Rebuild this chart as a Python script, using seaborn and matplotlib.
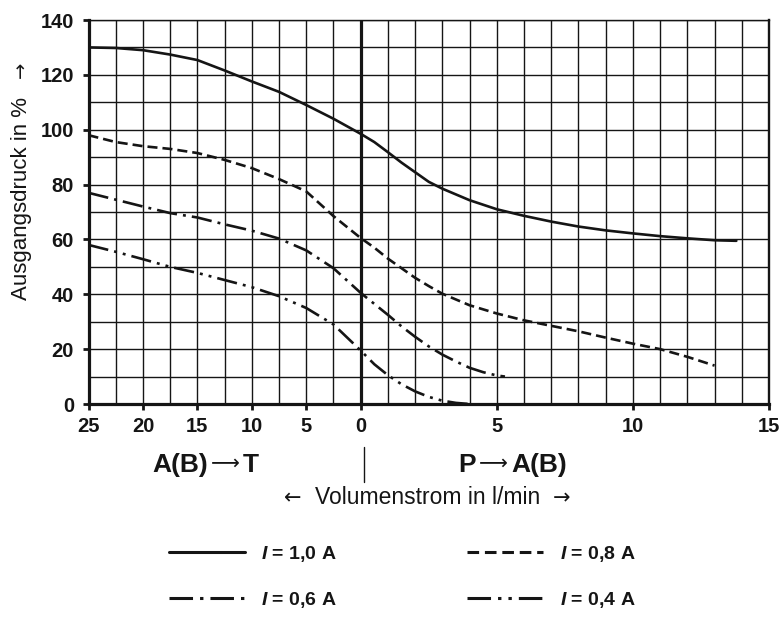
import numpy as np
import pandas as pd
import matplotlib
matplotlib.use("Agg")
import matplotlib.pyplot as plt
from matplotlib.lines import Line2D
import seaborn as sns

# Volumenstrom in l/min: negative = A(B)->T, positive = P->A(B)
flow_10 = [-25, -22.5, -20, -17.5, -15, -12.5, -10, -7.5, -5, -2.5, 0,
           0.5, 1, 1.5, 2, 2.5, 3, 4, 5, 6, 7, 8, 9, 10, 11, 12, 13, 13.8]
p_10 = [130, 129.8, 129, 127.4, 125.4, 121.6, 117.6, 113.8, 109, 104, 98.5,
        95.5, 91.8, 88, 84.5, 81, 78.5, 74.3, 71, 68.6, 66.5, 64.7, 63.3, 62.2, 61.2, 60.4, 59.7, 59.5]

flow_08 = [-25, -22.5, -20, -17.5, -15, -12.5, -10, -7.5, -5, -2.5, 0,
           0.5, 1, 1.5, 2, 2.5, 3, 4, 5, 6, 7, 8, 9, 10, 11, 12, 13]
p_08 = [98, 95.5, 94, 93, 91.5, 89, 86, 82, 77.5, 68.5, 60.5,
        57, 53, 49.5, 46, 43, 40.2, 36, 33, 30.5, 28.5, 26.5, 24.2, 22, 20, 17.2, 14]

flow_06 = [-25, -22.5, -20, -17.5, -15, -12.5, -10, -7.5, -5, -2.5, 0,
           0.5, 1, 1.5, 2, 2.5, 3, 3.5, 4, 4.5, 5, 5.3]
p_06 = [77, 74.5, 72, 69.6, 68, 65.5, 63.2, 60.3, 56, 49.5, 40.5,
        36.5, 32.5, 28.3, 24.5, 21, 18, 15.5, 13.2, 11.6, 10.4, 10]

flow_04 = [-25, -22.5, -20, -17.5, -15, -12.5, -10, -7.5, -5, -2.5, 0,
           0.5, 1, 1.5, 2, 2.5, 3, 3.5, 4]
p_04 = [58, 55.5, 52.8, 50, 47.8, 45.2, 42.6, 39.3, 35, 29, 19.5,
        14.5, 10.5, 7.2, 4.6, 2.6, 1.2, 0.4, 0]

labels = ["$\\mathbfit{I}$ = 1,0 A", "$\\mathbfit{I}$ = 0,8 A",
          "$\\mathbfit{I}$ = 0,6 A", "$\\mathbfit{I}$ = 0,4 A"]

df = pd.concat([
    pd.DataFrame({"flow": f, "druck": p, "strom": lab})
    for f, p, lab in zip([flow_10, flow_08, flow_06, flow_04],
                         [p_10, p_08, p_06, p_04], labels)
])

sns.set_style("white")
plt.rcParams["font.family"] = ["Liberation Sans", "DejaVu Sans"]
plt.rcParams["mathtext.fontset"] = "custom"
plt.rcParams["mathtext.bfit"] = "Liberation Sans:italic:bold"
plt.rcParams["mathtext.rm"] = "Liberation Sans:bold"

ink = "#151515"

fig = plt.figure(figsize=(7.83, 6.19), dpi=100)
ax = fig.add_axes([88.5 / 783, 1 - 404 / 619, (769 - 88.5) / 783, 384 / 619])


# left side (A(B)->T) is compressed: one grid cell = 2.5 l/min, right side 1 l/min
def fwd(x):
    x = np.asarray(x, dtype=float)
    return np.where(x < 0, x / 2.5, x)


def inv(x):
    x = np.asarray(x, dtype=float)
    return np.where(x < 0, x * 2.5, x)


ax.set_xscale("function", functions=(fwd, inv))

dash_map = {
    labels[0]: "",
    labels[1]: (3.8, 1.9),
    labels[2]: (7.7, 2.3, 1.1, 2.3),
    labels[3]: (7.7, 2.3, 1.1, 2.3, 1.1, 2.3),
}
sns.lineplot(data=df, x="flow", y="druck", style="strom", style_order=labels,
             dashes=dash_map, color=ink, linewidth=1.9, sort=False,
             estimator=None, legend=False, ax=ax, zorder=3)
handles = list(ax.get_lines()[:4])

ax.set_xlim(-25, 15)
ax.set_ylim(0, 140)
ax.set_xticks([-25, -20, -15, -10, -5, 0, 5, 10, 15])
ax.set_xticklabels(["25", "20", "15", "10", "5", "0", "5", "10", "15"])
ax.set_xticks(list(np.arange(-22.5, 0, 2.5)) + list(range(1, 15)), minor=True)
ax.set_yticks(range(0, 141, 20))
ax.set_yticks(range(10, 140, 20), minor=True)
ax.grid(which="both", color=ink, linewidth=1.0)
ax.set_axisbelow(True)
ax.tick_params(which="major", direction="out", length=4.5, width=2.0, color=ink,
               labelsize=14.5, left=True, bottom=True)
ax.tick_params(which="minor", length=0)
ax.tick_params(axis="x", pad=5)
ax.tick_params(axis="y", pad=6)
for t in ax.get_xticklabels() + ax.get_yticklabels():
    t.set_fontweight("bold")
    t.set_color(ink)
ax.set_xlabel("")
ax.set_ylabel("")

ax.axvline(0, color=ink, linewidth=2.3, zorder=2)
for side, lw in [("left", 2.3), ("bottom", 2.3), ("right", 1.7), ("top", 1.0)]:
    ax.spines[side].set_visible(True)
    ax.spines[side].set_color(ink)
    ax.spines[side].set_linewidth(lw)


def px(x, y):
    return x / 783, 1 - y / 619


arrow_font = ["DejaVu Sans"]

# y axis title
fig.text(*px(22, 198), "Ausgangsdruck in %", rotation=90, ha="center", va="center",
         fontsize=16, color=ink)
fig.text(*px(21, 70), "\u2192", rotation=90, ha="center", va="center",
         fontsize=14, color=ink, family=arrow_font)

# flow direction captions
fig.text(*px(208, 465), "A(B)", ha="right", va="center", fontsize=19,
         fontweight="bold", color=ink)
fig.text(*px(225, 463), "\u27f6", ha="center", va="center", fontsize=14.5,
         color=ink, family=arrow_font)
fig.text(*px(243, 465), "T", ha="left", va="center", fontsize=19,
         fontweight="bold", color=ink)
fig.text(*px(476, 465), "P", ha="right", va="center", fontsize=19,
         fontweight="bold", color=ink)
fig.text(*px(493, 463), "\u27f6", ha="center", va="center", fontsize=14.5,
         color=ink, family=arrow_font)
fig.text(*px(511, 465), "A(B)", ha="left", va="center", fontsize=19,
         fontweight="bold", color=ink)
fig.add_artist(Line2D([364 / 783, 364 / 783], [1 - 447 / 619, 1 - 482 / 619],
                      color=ink, linewidth=1.0))

# x axis title
fig.text(*px(293, 498), "\u2190", ha="center", va="center", fontsize=15,
         color=ink, family=arrow_font)
fig.text(*px(428, 497), "Volumenstrom in l/min", ha="center", va="center",
         fontsize=16.5, color=ink)
fig.text(*px(562, 498), "\u2192", ha="center", va="center", fontsize=15,
         color=ink, family=arrow_font)

order = [0, 2, 1, 3]
leg = fig.legend([handles[i] for i in order], [labels[i] for i in order],
                 ncol=2, loc="center", bbox_to_anchor=px(402, 577),
                 frameon=False, handlelength=3.9, handletextpad=0.85,
                 columnspacing=6.7, labelspacing=1.35,
                 prop={"size": 14, "weight": "bold"})
for t in leg.get_texts():
    t.set_color(ink)
for h in leg.get_lines():
    h.set_linewidth(2.2)

fig.savefig("out.png", dpi=100)
